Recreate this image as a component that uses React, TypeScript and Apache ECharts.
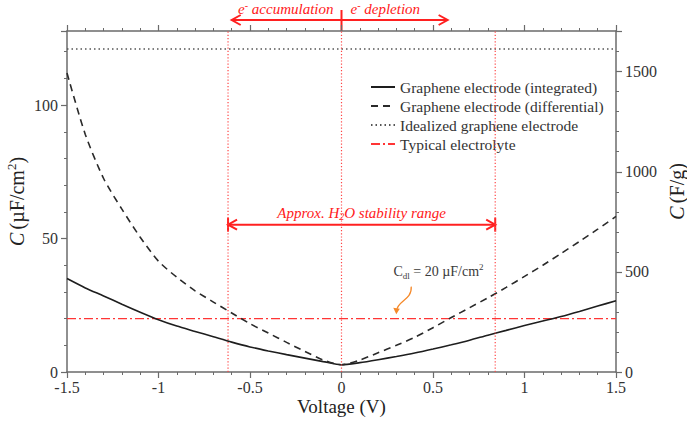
import React, { useEffect, useRef } from "react";
import * as echarts from "echarts";

const voltage = [
  -1.5, -1.4, -1.3, -1.2, -1.1, -1.0, -0.9, -0.8, -0.7, -0.6, -0.5, -0.4, -0.3, -0.2, -0.1, 0,
  0.1, 0.2, 0.3, 0.4, 0.5, 0.6, 0.7, 0.8, 0.9, 1.0, 1.1, 1.2, 1.3, 1.4, 1.5,
];
const integrated = [
  35, 31.5, 28.5, 25.4, 22.4, 19.6, 17.2, 15.2, 13.2, 11.2, 9.4, 7.9, 6.5, 5.2, 3.9, 2.7,
  3.5, 4.6, 5.8, 7.1, 8.6, 10.2, 11.9, 13.8, 15.6, 17.4, 19.1, 20.8, 22.7, 24.7, 26.7,
];
const differential = [
  112, 89, 72.5, 61, 50.5, 41.5, 35.5, 30.4, 26.2, 22.1, 18.1, 14.6, 11.1, 7.7, 4.5, 2.7,
  4.5, 7.2, 10.0, 13.0, 16.6, 20.4, 24.1, 27.8, 31.7, 35.8, 40.0, 44.4, 48.9, 53.5, 58.3,
];
const idealizedValue = 121;
const electrolyteValue = 20;
const stabilityRange = [-0.62, 0.84];
const dividerVoltage = 0;
const markerVoltages = [stabilityRange[0], dividerVoltage, stabilityRange[1]];
const accumulationEnd = -0.6;
const depletionEnd = 0.58;
const stabilityArrowLevel = 55.2;
const cdlLabelPos = [0.53, 37.6];
const cdlArrowTail = [0.381, 32];
const cdlArrowHead = [0.302, 22.2];
const xRange = [-1.5, 1.5];
const leftRange = [0, 127.75];
const rightRange = [0, 1703];
const seriesNames = [
  "Graphene electrode (integrated)",
  "Graphene electrode (differential)",
  "Idealized graphene electrode",
  "Typical electrolyte",
];

const FONT = "'Liberation Serif', 'DejaVu Serif', serif";
const RED = "#ff2020";
const AXIS = "#6b6b6b";

export default function App() {
  const ref = useRef<HTMLDivElement>(null);
  useEffect(() => {
    document.body.style.margin = "0";
    const chart = echarts.init(ref.current!, null, { renderer: "svg" });
    const axisCommon = {
      type: "value" as const,
      axisLine: { show: true, onZero: false, lineStyle: { color: AXIS, width: 1.5 } },
      axisTick: { show: true, inside: false, length: 6, lineStyle: { color: AXIS, width: 1.2 } },
      minorTick: { show: true, splitNumber: 5, length: 3, lineStyle: { color: AXIS, width: 1 } },
      splitLine: { show: false },
      minorSplitLine: { show: false },
    };
    const markerSeries = markerVoltages.map((v) => ({
      type: "line",
      symbol: "none",
      silent: true,
      z: 4,
      data: [
        [v, leftRange[0]],
        [v, leftRange[1]],
      ],
      lineStyle: { color: "#ff4545", width: 1.2, type: [1.2, 2] },
      itemStyle: { color: "#ff4545" },
    }));
    chart.setOption({
      animation: false,
      backgroundColor: "#ffffff",
      grid: { left: 67, right: 71, top: 31, bottom: 53, containLabel: false },
      legend: {
        show: true,
        orient: "vertical",
        left: 365,
        top: 74,
        itemWidth: 24,
        itemHeight: 14,
        itemGap: 3,
        data: seriesNames,
        itemStyle: { opacity: 0, borderWidth: 0 },
        textStyle: { fontFamily: FONT, fontSize: 15.5, color: "#333" },
        selectedMode: false,
      },
      xAxis: [
        {
          ...axisCommon,
          position: "bottom",
          min: xRange[0],
          max: xRange[1],
          interval: 0.5,
          axisLabel: { fontFamily: FONT, fontSize: 16, color: "#333", margin: 7 },
        },
        {
          ...axisCommon,
          position: "top",
          min: xRange[0],
          max: xRange[1],
          interval: 0.5,
          axisLabel: { show: false },
        },
      ],
      yAxis: [
        {
          ...axisCommon,
          position: "left",
          min: leftRange[0],
          max: leftRange[1],
          interval: 50,
          axisLabel: {
            fontFamily: FONT,
            fontSize: 16,
            color: "#333",
            margin: 9,
            formatter: (v: number) => (v % 50 === 0 ? String(v) : ""),
          },
        },
        {
          ...axisCommon,
          position: "right",
          min: rightRange[0],
          max: rightRange[1],
          interval: 500,
          axisLabel: {
            fontFamily: FONT,
            fontSize: 16,
            color: "#333",
            margin: 9,
            formatter: (v: number) => (v % 500 === 0 ? String(v) : ""),
          },
        },
      ],
      series: [
        ...markerSeries,
        {
          name: seriesNames[0],
          type: "line",
          symbol: "none",
          smooth: 0.25,
          z: 3,
          data: voltage.map((v, i) => [v, integrated[i]]),
          lineStyle: { color: "#1e1e1e", width: 1.6, type: "solid" },
          itemStyle: { color: "#1e1e1e" },
        },
        {
          name: seriesNames[1],
          type: "line",
          symbol: "none",
          smooth: 0.25,
          z: 3,
          data: voltage.map((v, i) => [v, differential[i]]),
          lineStyle: { color: "#2a2a2a", width: 1.6, type: [7, 5] },
          itemStyle: { color: "#2a2a2a" },
        },
        {
          name: seriesNames[2],
          type: "line",
          symbol: "none",
          z: 2,
          data: [
            [xRange[0], idealizedValue],
            [xRange[1], idealizedValue],
          ],
          lineStyle: { color: "#555", width: 1.3, type: [1.5, 3] },
          itemStyle: { color: "#555" },
        },
        {
          name: seriesNames[3],
          type: "line",
          symbol: "none",
          z: 2,
          data: [
            [xRange[0], electrolyteValue],
            [xRange[1], electrolyteValue],
          ],
          lineStyle: { color: "#ff3535", width: 1.3, type: [9, 3, 2, 3] },
          itemStyle: { color: "#ff3535" },
        },
      ],
    });

    const px = (v: number) => chart.convertToPixel({ xAxisIndex: 0 }, v) as number;
    const py = (c: number) => chart.convertToPixel({ yAxisIndex: 0 }, c) as number;
    const gridTop = py(leftRange[1]);
    const gridBottom = py(leftRange[0]);
    const gridLeft = px(xRange[0]);
    const gridRight = px(xRange[1]);

    const arrowY = gridTop - 11;
    const x0 = px(dividerVoltage);
    const xl = px(accumulationEnd);
    const xr = px(depletionEnd);
    const xa = px(stabilityRange[0]);
    const xb = px(stabilityRange[1]);
    const ys = py(stabilityArrowLevel);
    const redLine = { stroke: RED, lineWidth: 2 };
    const head = (x: number, y: number, dir: number) => ({
      type: "polyline",
      shape: { points: [[x - dir * 9, y - 5], [x, y], [x - dir * 9, y + 5]] },
      style: { ...redLine, fill: null },
    });
    const it = { fontFamily: FONT, fontStyle: "italic", fontSize: 15, fill: RED, lineHeight: 18, verticalAlign: "middle" };
    const itSup = { fontFamily: FONT, fontStyle: "normal", fontSize: 10, fill: RED, lineHeight: 18, verticalAlign: "top" };
    const itSub = { fontFamily: FONT, fontStyle: "italic", fontSize: 10, fill: RED, lineHeight: 18, verticalAlign: "bottom" };

    const graphic: any[] = [
      { type: "line", shape: { x1: x0, y1: gridTop - 21, x2: x0, y2: gridTop }, style: redLine },
      { type: "line", shape: { x1: xl, y1: arrowY, x2: xr, y2: arrowY }, style: redLine },
      head(xl, arrowY, -1),
      head(xr, arrowY, 1),
      {
        type: "text",
        x: x0 - 8,
        y: arrowY - 11,
        style: {
          text: "{i|e}{s|-}{i| accumulation}",
          align: "right",
          verticalAlign: "middle",
          rich: { i: it, s: itSup },
        },
      },
      {
        type: "text",
        x: x0 + 9,
        y: arrowY - 11,
        style: {
          text: "{i|e}{s|-}{i| depletion}",
          align: "left",
          verticalAlign: "middle",
          rich: { i: it, s: itSup },
        },
      },
      { type: "line", shape: { x1: xa, y1: ys, x2: xb, y2: ys }, style: redLine },
      { type: "line", shape: { x1: xa, y1: ys - 7, x2: xa, y2: ys + 7 }, style: redLine },
      { type: "line", shape: { x1: xb, y1: ys - 7, x2: xb, y2: ys + 7 }, style: redLine },
      head(xa, ys, -1),
      head(xb, ys, 1),
      {
        type: "text",
        x: (xa + xb) / 2,
        y: ys - 12,
        style: {
          text: "{i|Approx. H}{b|2}{i|O stability range}",
          align: "center",
          verticalAlign: "middle",
          rich: { i: it, b: itSub },
        },
      },
      {
        type: "text",
        x: px(cdlLabelPos[0]),
        y: py(cdlLabelPos[1]),
        style: {
          text: "{a|C}{b|dl}{a| = 20 µF/cm}{c|2}",
          align: "center",
          verticalAlign: "middle",
          rich: {
            a: { fontFamily: FONT, fontSize: 14, fill: "#3a3a3a", lineHeight: 18, verticalAlign: "middle" },
            b: { fontFamily: FONT, fontSize: 9, fill: "#3a3a3a", lineHeight: 18, verticalAlign: "bottom" },
            c: { fontFamily: FONT, fontSize: 9, fill: "#3a3a3a", lineHeight: 18, verticalAlign: "top" },
          },
        },
      },
      {
        type: "bezierCurve",
        shape: {
          x1: px(cdlArrowTail[0]),
          y1: py(cdlArrowTail[1]),
          cpx1: px(cdlArrowTail[0]) + 1,
          cpy1: py(cdlArrowTail[1]) + 14,
          cpx2: px(cdlArrowHead[0]),
          cpy2: py(cdlArrowHead[1]) - 12,
          x2: px(cdlArrowHead[0]),
          y2: py(cdlArrowHead[1]) - 2,
        },
        style: { stroke: "#f5892a", lineWidth: 1.3, fill: null },
      },
      {
        type: "polygon",
        shape: {
          points: [
            [px(cdlArrowHead[0]) - 3.5, py(cdlArrowHead[1]) - 5],
            [px(cdlArrowHead[0]) + 3, py(cdlArrowHead[1]) - 4],
            [px(cdlArrowHead[0]) - 0.5, py(cdlArrowHead[1]) + 1.5],
          ],
        },
        style: { fill: "#f5892a" },
      },
      {
        type: "text",
        x: 17,
        y: (gridTop + gridBottom) / 2,
        rotation: Math.PI / 2,
        style: {
          text: "{i|C} {r|(µF/cm}{s|2}{r|)}",
          align: "center",
          verticalAlign: "middle",
          rich: {
            i: { fontFamily: FONT, fontStyle: "italic", fontSize: 20, fill: "#222", lineHeight: 24, verticalAlign: "middle" },
            r: { fontFamily: FONT, fontSize: 20, fill: "#222", lineHeight: 24, verticalAlign: "middle" },
            s: { fontFamily: FONT, fontSize: 13, fill: "#222", lineHeight: 24, verticalAlign: "top" },
          },
        },
      },
      {
        type: "text",
        x: gridRight + 61,
        y: (gridTop + gridBottom) / 2 - 10,
        rotation: Math.PI / 2,
        style: {
          text: "{i|C} {r|(F/g)}",
          align: "center",
          verticalAlign: "middle",
          rich: {
            i: { fontFamily: FONT, fontStyle: "italic", fontSize: 20, fill: "#222" },
            r: { fontFamily: FONT, fontSize: 20, fill: "#222" },
          },
        },
      },
      {
        type: "text",
        x: (gridLeft + gridRight) / 2,
        y: gridBottom + 34,
        style: {
          text: "Voltage (V)",
          align: "center",
          verticalAlign: "middle",
          fontFamily: FONT,
          fontSize: 19,
          fill: "#222",
        },
      },
    ];
    chart.setOption({ graphic });
    return () => chart.dispose();
  }, []);
  return (
    <div
      ref={ref}
      style={{ position: "fixed", left: 0, top: 0, width: 687, height: 425, background: "#fff" }}
    />
  );
}
